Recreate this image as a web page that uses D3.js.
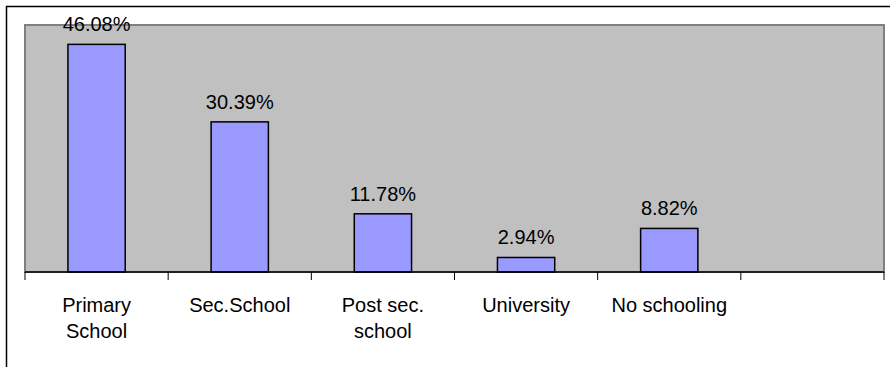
<!DOCTYPE html>
<html>
<head>
<meta charset="utf-8">
<script src="https://cdn.jsdelivr.net/npm/d3@7"></script>
<style>
  html, body { margin: 0; padding: 0; background: #ffffff; }
  svg { display: block; }
  text { font-family: "Liberation Sans", Arial, sans-serif; fill: #000; }
</style>
</head>
<body>
<svg id="chart" width="890" height="367"></svg>
<script>
// Education level shares (percent)
const categories = ["Primary School", "Sec.School", "Post sec. school", "University", "No schooling", ""];
const values = [46.08, 30.39, 11.78, 2.94, 8.82, null];
const yDomain = [0, 50];

const W = 890, H = 367;
const plot = { left: 25, right: 884, top: 25, bottom: 272 };

const svg = d3.select("#chart");

// outer frame (runs past the right and bottom edges)
svg.append("rect")
  .attr("x", 6.5).attr("y", 6.5)
  .attr("width", 900).attr("height", 400)
  .attr("fill", "#fff")
  .attr("stroke", "#000").attr("stroke-width", 1.5);

// slots for the category axis, and bars inside each slot
const slot = d3.scaleBand().domain(categories).range([plot.left, plot.right]).padding(0);
const x = d3.scaleBand().domain(categories).range([plot.left, plot.right])
  .paddingInner(0.6).paddingOuter(0.3);
const y = d3.scaleLinear().domain(yDomain).range([plot.bottom, plot.top]);

// plot area
svg.append("rect")
  .attr("x", plot.left).attr("y", plot.top)
  .attr("width", plot.right - plot.left).attr("height", plot.bottom - plot.top)
  .attr("fill", "#c0c0c0")
  .attr("stroke", "#808080").attr("stroke-width", 2);

const data = categories.map((c, i) => ({ cat: c, v: values[i] })).filter(d => d.v != null);

// bars
svg.append("g").selectAll("rect")
  .data(data).join("rect")
  .attr("x", d => x(d.cat))
  .attr("y", d => y(d.v))
  .attr("width", x.bandwidth())
  .attr("height", d => y(0) - y(d.v))
  .attr("fill", "#9999ff")
  .attr("stroke", "#000").attr("stroke-width", 1.5);

// value labels
const fmt = d3.format(".2f");
svg.append("g").selectAll("text")
  .data(data).join("text")
  .attr("x", d => x(d.cat) + x.bandwidth() / 2)
  .attr("y", d => y(d.v) - 13)
  .attr("text-anchor", "middle")
  .attr("font-size", 20)
  .text(d => fmt(d.v) + "%");

// category axis line and ticks at slot boundaries
svg.append("line")
  .attr("x1", plot.left).attr("x2", plot.right)
  .attr("y1", plot.bottom).attr("y2", plot.bottom)
  .attr("stroke", "#000").attr("stroke-width", 1.5);

const bounds = categories.map(c => slot(c)).concat([plot.right]);
svg.append("g").selectAll("line")
  .data(bounds).join("line")
  .attr("x1", d => d).attr("x2", d => d)
  .attr("y1", plot.bottom).attr("y2", plot.bottom + 8)
  .attr("stroke", "#000").attr("stroke-width", 1);

// category labels, wrapped to fit the slot
const maxLine = 125;
const labels = svg.append("g").selectAll("text")
  .data(categories).join("text")
  .attr("x", d => slot(d) + slot.bandwidth() / 2)
  .attr("y", plot.bottom + 40)
  .attr("text-anchor", "middle")
  .attr("font-size", 20);

labels.each(function(d) {
  const t = d3.select(this);
  const words = d.split(/\s+/).filter(Boolean);
  let line = [];
  let lineNo = 0;
  let tspan = t.append("tspan").attr("x", slot(d) + slot.bandwidth() / 2).attr("dy", 0);
  words.forEach(w => {
    line.push(w);
    tspan.text(line.join(" "));
    if (tspan.node().getComputedTextLength() > maxLine && line.length > 1) {
      line.pop();
      tspan.text(line.join(" "));
      line = [w];
      lineNo++;
      tspan = t.append("tspan")
        .attr("x", slot(d) + slot.bandwidth() / 2)
        .attr("dy", 25.7)
        .text(w);
    }
  });
});
</script>
</body>
</html>
